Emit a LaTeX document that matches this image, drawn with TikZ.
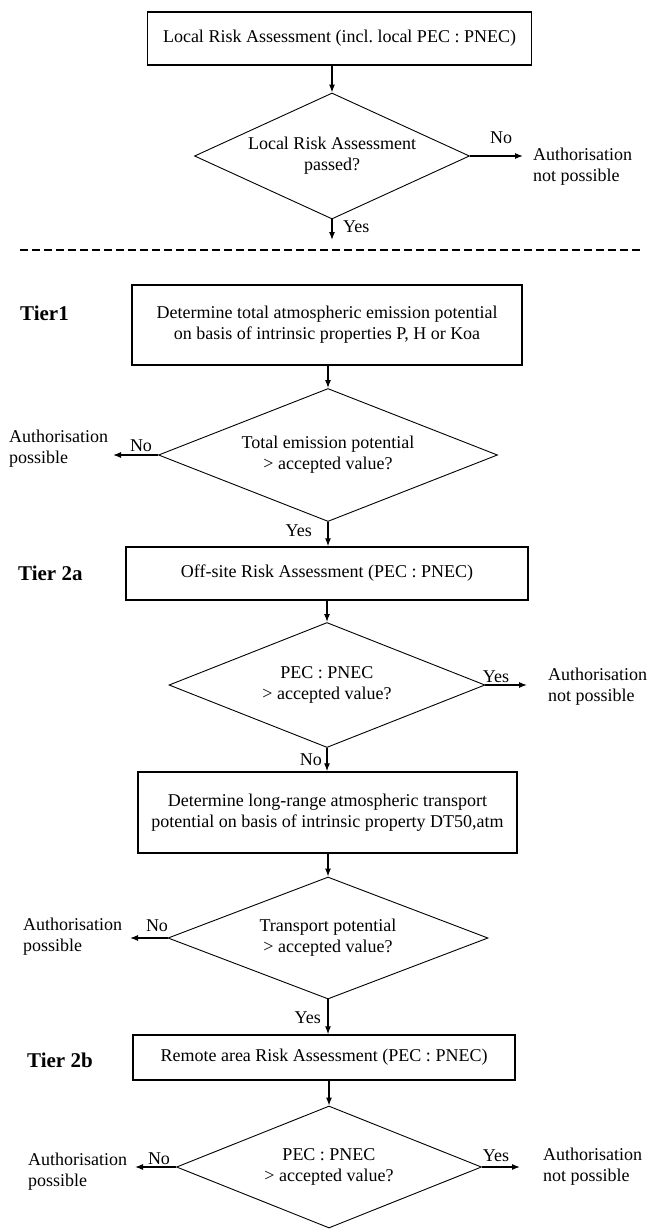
\documentclass[tikz,border=0pt]{standalone}
\usepackage{fontspec}
\setmainfont{Liberation Serif}
\usetikzlibrary{shapes.geometric,arrows.meta}
\begin{document}
\begin{tikzpicture}[x=1pt,y=-1pt,
  every node/.style={font=\fontsize{18}{21}\selectfont},
  box/.style={draw,line width=1.4pt,align=center,inner sep=0pt},
  dec/.style={draw,shape=diamond,line width=0.9pt,align=center,inner sep=0pt,aspect=2.4},
  arr/.style={line width=1.2pt,-{Latex[length=8pt,width=6pt]}},
  lbl/.style={inner sep=0pt,anchor=base},
  outc/.style={inner sep=0pt,align=left},
  tier/.style={inner sep=0pt,anchor=west,font=\fontsize{21}{25}\selectfont\bfseries}]
\useasboundingbox (0,0) rectangle (656,1229);

% ---- local part
\node[box,minimum width=384,minimum height=53] (b1) at (339.5,38.5) {Local Risk Assessment (incl.\ local PEC : PNEC)};
\node[dec,minimum width=275,minimum height=126] (d1) at (332,156) {Local Risk Assessment\\passed?};
\coordinate (n1) at (523,156);
\coordinate (y1) at (332,240);
\node[outc,anchor=west] (o1) at (533,167) {Authorisation\\not possible};
\node[lbl] (l1n) at (501,143) {No};
\node[lbl,anchor=base west] (l1y) at (343,232) {Yes};
\draw[arr] (b1.south -| d1.north) -- (d1.north);
\draw[arr] (d1.east) -- (n1);
\draw[arr] (d1.south) -- (y1);

\coordinate (dl) at (20,250);
\coordinate (dr) at (640,250);
\draw[line width=1.1pt,dash pattern=on 8pt off 4pt] (dl) -- (dr);

% ---- Tier 1
\node[tier] (t1) at (20,313) {Tier1};
\node[box,minimum width=390,minimum height=80] (b2) at (327,325) {Determine total atmospheric emission potential\\on basis of intrinsic properties P, H or Koa};
\node[dec,minimum width=339,minimum height=133] (d2) at (328,455) {Total emission potential\\> accepted value?};
\coordinate (n2) at (113,455);
\node[outc,anchor=west] (o2) at (9,449) {Authorisation\\possible};
\node[lbl] (l2n) at (141,451) {No};
\node[lbl,anchor=base east] (l2y) at (312,536) {Yes};
\draw[arr] (b2.south -| d2.north) -- (d2.north);
\draw[arr] (d2.west) -- (n2);

% ---- Tier 2a
\node[tier] (t2a) at (18,573) {Tier 2a};
\node[box,minimum width=402,minimum height=53] (b3) at (327,573.5) {Off-site Risk Assessment (PEC : PNEC)};
\draw[arr] (d2.south) -- (d2.south |- b3.north);
\node[dec,minimum width=316,minimum height=125] (d3) at (327,685) {PEC : PNEC\\> accepted value?};
\coordinate (n3) at (527,685);
\node[outc,anchor=west] (o3) at (548,687) {Authorisation\\not possible};
\node[lbl] (l3y) at (496,682) {Yes};
\node[lbl,anchor=base east] (l3n) at (322,765) {No};
\draw[arr] (b3.south -| d3.north) -- (d3.north);
\draw[arr] (d3.east) -- (n3);

\node[box,minimum width=379,minimum height=81] (b4) at (327.5,812.5) {Determine long-range atmospheric transport\\potential on basis of intrinsic property DT50,atm};
\draw[arr] (d3.south) -- (d3.south |- b4.north);
\node[dec,minimum width=320,minimum height=122] (d4) at (328,938) {Transport potential\\> accepted value?};
\coordinate (n4) at (130,938);
\node[outc,anchor=west] (o4) at (23,937) {Authorisation\\possible};
\node[lbl] (l4n) at (157,931) {No};
\node[lbl,anchor=base east] (l4y) at (321,1023) {Yes};
\draw[arr] (b4.south -| d4.north) -- (d4.north);
\draw[arr] (d4.west) -- (n4);

% ---- Tier 2b
\node[tier] (t2b) at (27,1060) {Tier 2b};
\node[box,minimum width=382,minimum height=45] (b5) at (324,1057.5) {Remote area Risk Assessment (PEC : PNEC)};
\draw[arr] (d4.south) -- (d4.south |- b5.north);
\node[dec,minimum width=305,minimum height=122] (d5) at (329,1167) {PEC : PNEC\\> accepted value?};
\coordinate (n5l) at (135,1167);
\coordinate (n5r) at (520,1167);
\node[outc,anchor=west] (o5l) at (28,1172) {Authorisation\\possible};
\node[outc,anchor=west] (o5r) at (543,1167) {Authorisation\\not possible};
\node[lbl] (l5n) at (159,1164) {No};
\node[lbl] (l5y) at (496,1161) {Yes};
\draw[arr] (b5.south -| d5.north) -- (d5.north);
\draw[arr] (d5.west) -- (n5l);
\draw[arr] (d5.east) -- (n5r);
\end{tikzpicture}
\end{document}
